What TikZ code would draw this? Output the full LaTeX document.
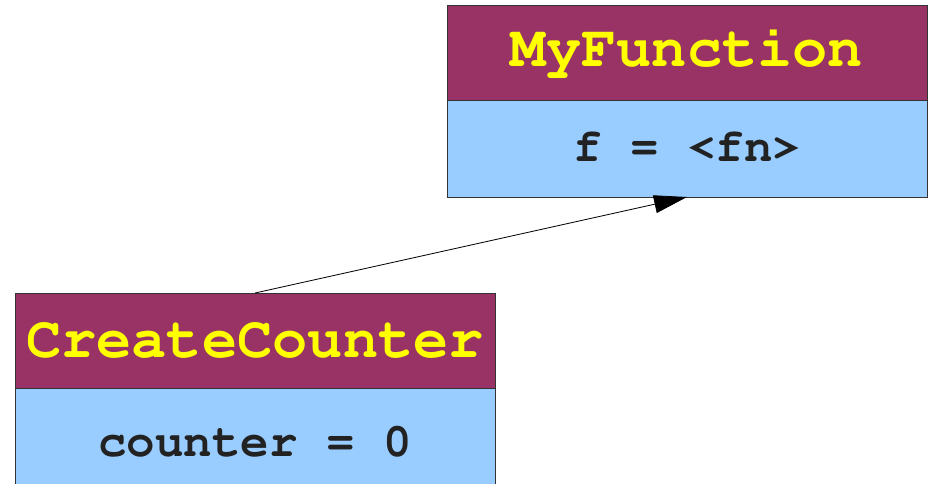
\documentclass[tikz,border=0pt]{standalone}
\usepackage[T1]{fontenc}
\usetikzlibrary{arrows.meta}
\definecolor{hdrfill}{HTML}{993366}
\definecolor{bdyfill}{HTML}{99CCFF}
\definecolor{hdrtext}{HTML}{FFFF00}
\definecolor{bdytext}{HTML}{222222}
\definecolor{edge}{HTML}{333333}
\newcommand{\courbold}{\fontfamily{pcr}\fontseries{b}\selectfont}
\tikzset{
  hdrbox/.style={draw=edge, line width=1pt, fill=hdrfill, rectangle, inner sep=0pt, outer sep=0pt, minimum width=480pt},
  bdybox/.style={draw=edge, line width=1pt, fill=bdyfill, rectangle, inner sep=0pt, outer sep=0pt, minimum width=480pt},
  hdrlabel/.style={anchor=base, inner sep=0pt, text=hdrtext, font=\courbold\fontsize{58.7}{60}\selectfont},
  bdylabel/.style={anchor=base, inner sep=0pt, text=bdytext, font=\courbold\fontsize{47.5}{50}\selectfont},
  link/.style={draw=black, line width=0.8pt, -{Triangle[length=33pt,width=18pt]}}
}
\begin{document}
\begin{tikzpicture}[x=1pt,y=-1pt]
\useasboundingbox (0,0) rectangle (933,483);
% MyFunction
\node[hdrbox, minimum height=95pt] (mfh) at (687,52.5) {};
\node[bdybox, minimum height=97pt] (mfb) at (687,148.5) {};
\node[hdrlabel] (mft) at (687,66.5) {MyFunction};
\node[bdylabel] (mfv) at (687,161.5) {f = <fn>};
% CreateCounter
\node[hdrbox, minimum height=95pt] (cch) at (255,340.5) {};
\node[bdybox, minimum height=110pt] (ccb) at (255,443) {};
\node[hdrlabel] (cct) at (255,357) {CreateCounter};
\node[bdylabel] (ccv) at (255,456.5) {counter = 0};
% connector
\draw[link] (cch.north) -- (mfb.south);
\end{tikzpicture}
\end{document}
